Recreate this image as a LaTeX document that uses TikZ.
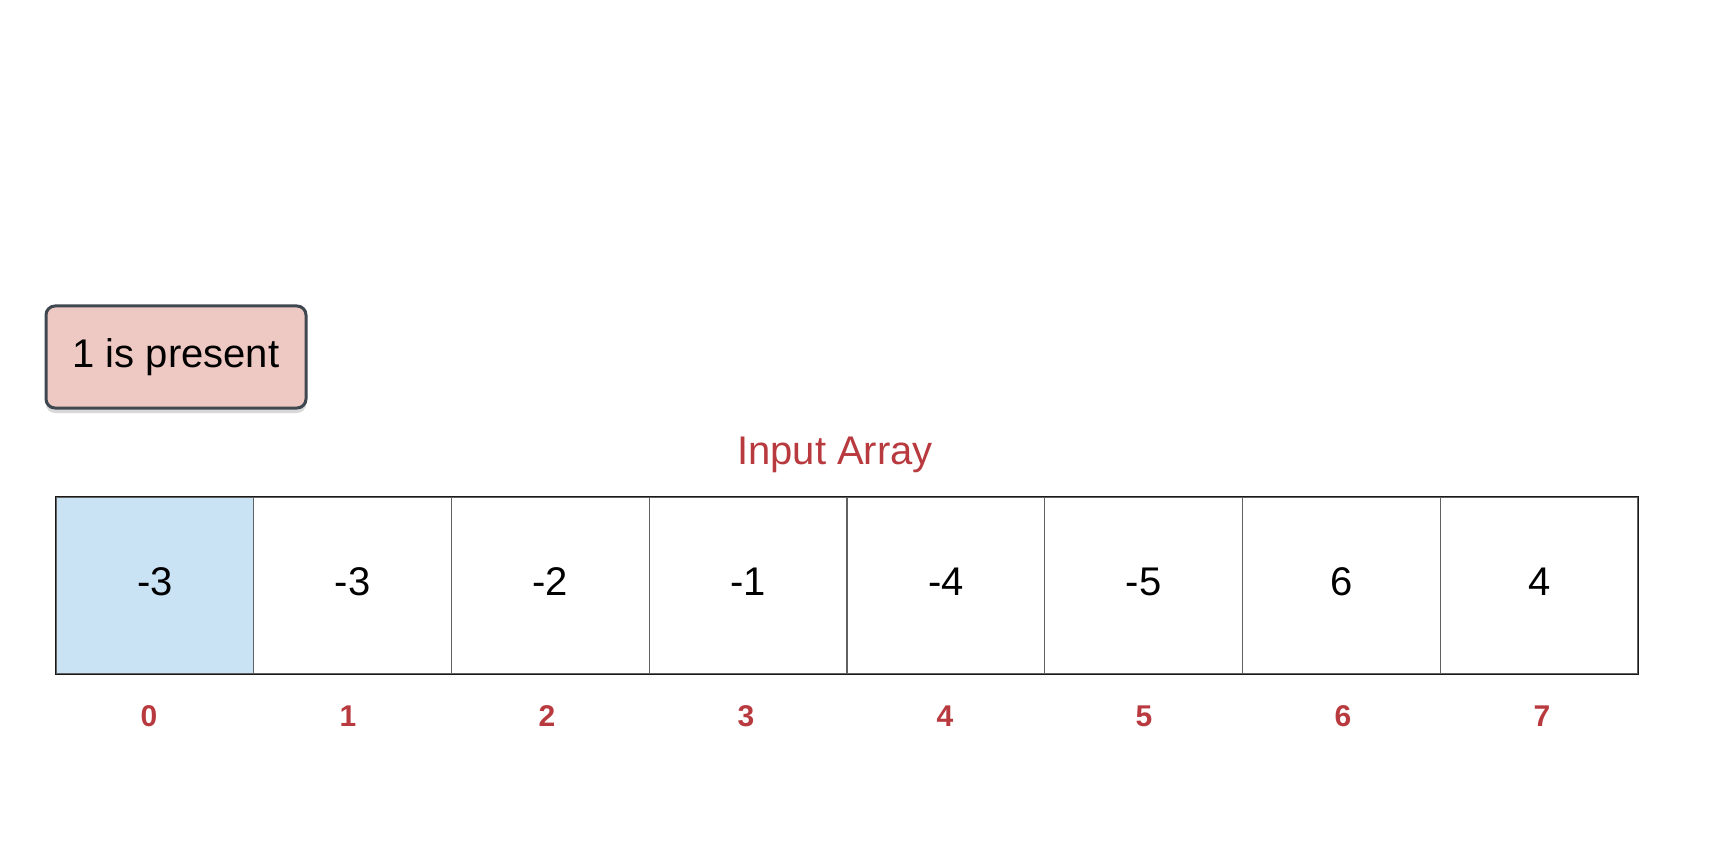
\documentclass[tikz,border=0pt]{standalone}
\usepackage{fontspec}
\setmainfont{Liberation Sans}
\usetikzlibrary{shadows}
\definecolor{redtxt}{HTML}{B83A3F}
\definecolor{boxfill}{HTML}{EEC8C2}
\definecolor{boxdraw}{HTML}{3F4750}
\definecolor{cellblue}{HTML}{C9E2F4}
\tikzset{
  cell/.style={draw=black!62, line width=1.3pt, minimum width=197.75pt, minimum height=177pt, inner sep=0pt},
  val/.style={font=\fontsize{40}{44}\selectfont, inner sep=0pt},
  idx/.style={text=redtxt, font=\fontsize{30}{34}\selectfont\bfseries},
  note/.style={draw=boxdraw, line width=3pt, fill=boxfill, rounded corners=9pt, minimum width=260pt, minimum height=102pt, font=\fontsize{40}{44}\selectfont, drop shadow={shadow xshift=0pt, shadow yshift=-5pt, opacity=0.15, fill=black}}
}
\begin{document}
\begin{tikzpicture}[x=1pt,y=-1pt]
\useasboundingbox (0,0) rectangle (1720,866);
\node[note] (present) at (176,357) {\raisebox{6pt}{1 is present}};
\node[text=redtxt, font=\fontsize{40}{44}\selectfont] (title) at (835,455) {Input Array};
\foreach \v [count=\i from 0] in {-3,-3,-2,-1,-4,-5,6,4} {
  \ifnum\i=0
    \node[cell, fill=cellblue] (c\i) at ({56+197.75*(\i+0.5)},585.5) {};
  \else
    \node[cell] (c\i) at ({56+197.75*(\i+0.5)},585.5) {};
  \fi
  \node[val] (v\i) at ([yshift=3.5pt]c\i.center) {\v};
  \node[idx] (i\i) at ({149+199*\i},716) {\i};
}
\draw[black!90, line width=1.3pt] (c0.north west) rectangle (c7.south east);
\end{tikzpicture}
\end{document}
